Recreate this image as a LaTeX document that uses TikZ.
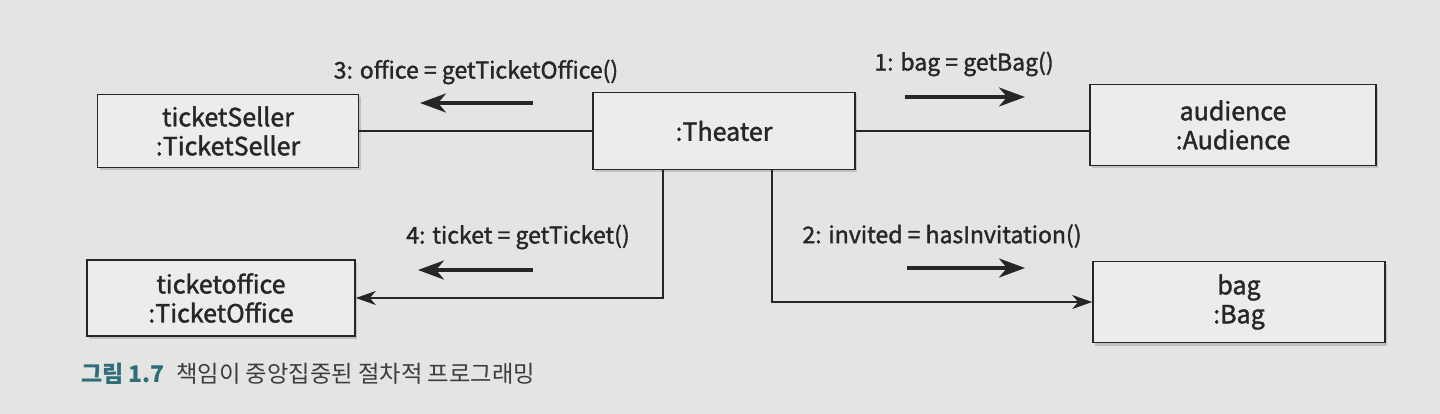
\documentclass[tikz,border=0pt]{standalone}
\usepackage{fontspec}
\setmainfont{Noto Sans CJK KR}
\newfontfamily\diagfont{Noto Sans CJK KR}[FakeBold=1.5]
\usetikzlibrary{arrows.meta,shadows,positioning}
\definecolor{paper}{HTML}{E4E4E2}
\definecolor{boxfill}{HTML}{ECECEA}
\definecolor{ink}{HTML}{262626}
\definecolor{figteal}{HTML}{2F6E78}
\tikzset{
  obj/.style={draw=ink,line width=1.6pt,fill=boxfill,align=center,inner sep=0pt,
    font=\diagfont\fontsize{25}{29}\selectfont,text=ink,
    drop shadow={shadow xshift=2pt,shadow yshift=-3pt,opacity=0.35}},
  link/.style={draw=ink,line width=1.6pt},
  linkhead/.style={-{Stealth[length=20pt,width=14pt,inset=6pt]}},
  msg/.style={draw=ink,line width=3.5pt,-{Stealth[length=26pt,width=19pt,inset=8pt]}},
  lbl/.style={text=ink,font=\diagfont\fontsize{23}{27}\selectfont}
}
\begin{document}
\begin{tikzpicture}[x=1pt,y=-1pt]
\fill[paper] (0,0) rectangle (1440,414);
\useasboundingbox (0,0) rectangle (1440,414);

% objects
\node(seller) at (228,131)[obj,minimum width=261pt,minimum height=73pt]    {ticketSeller\\:TicketSeller};
\node(theater) at (724,131)[obj,minimum width=262pt,minimum height=77pt]   {:Theater};
\node(audience) at (1233,125)[obj,minimum width=286pt,minimum height=81pt] {audience\\:Audience};
\node(office) at (221,298)[obj,minimum width=268pt,minimum height=76pt]    {ticketoffice\\:TicketOffice};
\node(bag) at (1239,302)[obj,minimum width=292pt,minimum height=81pt]      {bag\\:Bag};

\path [link]
  (seller.east)     edge      (seller.east -| theater.west)
  (theater.east)    edge      (theater.east -| audience.west);
\draw [link,linkhead] ([xshift=-61pt]theater.south) |- (office.east);
\draw [link,linkhead] ([xshift=48pt]theater.south) |- (bag.west);

% messages
\coordinate(m3s) at (533,103);
\coordinate(m3e) at (420,103);
\coordinate(m1s) at (905,97);
\coordinate(m1e) at (1025,97);
\coordinate(m4s) at (533,270);
\coordinate(m4e) at (418,270);
\coordinate(m2s) at (907,268);
\coordinate(m2e) at (1025,268);
\draw [msg] (m3s) -- (m3e);
\draw [msg] (m1s) -- (m1e);
\draw [msg] (m4s) -- (m4e);
\draw [msg] (m2s) -- (m2e);

\node(l3) at (476,72)[lbl]  {3: office = getTicketOffice()};
\node(l1) at (964,64)[lbl]  {1: bag = getBag()};
\node(l4) at (518,237)[lbl] {4: ticket = getTicket()};
\node(l2) at (942,236)[lbl] {2: invited = hasInvitation()};

% caption
\node(fig) at (81,374)[anchor=west,inner sep=0pt,text=figteal,font=\fontsize{23}{27}\selectfont\bfseries] {그림 1.7};
\node(cap) [right=11pt of fig,inner sep=0pt,text=ink!90,font=\fontsize{23.3}{27}\selectfont] {책임이 중앙집중된 절차적 프로그래밍};
\end{tikzpicture}
\end{document}
